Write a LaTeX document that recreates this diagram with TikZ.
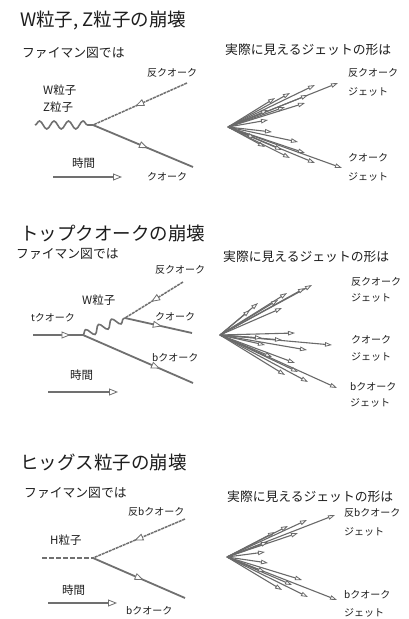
\documentclass[tikz,border=0pt]{standalone}
\usepackage{fontspec}
\setmainfont{Noto Sans CJK JP}
\usetikzlibrary{arrows.meta,decorations.pathmorphing,decorations.markings}

\definecolor{ink}{HTML}{1E1E1E}
\definecolor{linegray}{HTML}{707070}
\definecolor{jetgray}{HTML}{6A6A6A}

\tikzset{
  heading/.style={font=\fontsize{18.5}{20}\selectfont, anchor=west, text=ink, inner sep=0pt},
  subhead/.style={font=\fontsize{12.8}{14}\selectfont, anchor=west, text=ink, inner sep=0pt},
  lbl/.style={font=\fontsize{10}{12}\selectfont, anchor=west, text=ink, inner sep=0pt},
  plbl/.style={font=\fontsize{11.5}{13}\selectfont, anchor=west, text=ink, inner sep=0pt},
  midtip/.style={postaction=decorate, decoration={markings,
      mark=at position #1 with {\arrow{Triangle[length=9pt,width=7pt,fill=white,line width=0.8pt]}}}},
  fermion/.style={draw=linegray, line width=1.8pt, midtip=#1},
  fermion/.default=0.55,
  antifermion/.style={draw=linegray, line width=1.5pt, dash pattern=on 3pt off 0.8pt, midtip=0.55},
  boson/.style={draw=linegray, line width=1.6pt, decorate,
      decoration={snake, segment length=#1, amplitude=4pt}},
  higgs/.style={draw=linegray, line width=2.2pt, dash pattern=on 5pt off 2pt},
  timearrow/.style={draw=linegray, line width=1.8pt,
      -{Triangle[length=9pt,width=7pt,fill=white,line width=0.8pt]}},
  jet/.style={draw=jetgray, line width=1.1pt,
      -{Triangle[length=7pt,width=4.5pt,fill=white,line width=0.8pt]}},
}

\begin{document}
\begin{tikzpicture}[x=1pt,y=-1pt]
\useasboundingbox (0,0) rectangle (408,619);
\fill[white] (0,0) rectangle (408,619);

% ---------- W / Z decay ----------
\node[heading] (t1) at (20,20) {W粒子, Z粒子の崩壊};
\node[subhead] (f1) at (22,53) {ファイマン図では};
\node[subhead] (r1) at (225,50) {実際に見えるジェットの形は};

\coordinate (wz) at (35,125);
\coordinate (v1) at (93,125);
\coordinate (q1bar) at (187,83);
\coordinate (q1) at (193,167);
\draw[boson=14.5pt] (wz) -- (v1);
\draw[antifermion] (q1bar) -- (v1);
\draw[fermion] (v1) -- (q1);
\node[plbl] (wlab) at (43,90) {W粒子};
\node[plbl] (zlab) at (43,107) {Z粒子};
\node[lbl] (aq1) at (147,73) {反クオーク};
\node[lbl] (qq1) at (147,177) {クオーク};
\node[plbl] (time1) at (72,163) {時間};
\coordinate (ta1) at (53,177);
\coordinate (tb1) at (122,177);
\draw[timearrow] (ta1) -- (tb1);

\coordinate (j1) at (228,127);
\foreach \x/\y in {338/83, 315/85, 308/95, 305/103, 275/98, 268/110, 268/120, 290/93, 285/107,
                   342/168, 315/163, 305/153, 298/142, 272/132, 282/150, 265/147, 290/158, 255/138}
  {\coordinate (e) at (\x,\y); \draw[jet] (j1) -- (e);}
\node[lbl] (ja1) at (348,73) {反クオーク};
\node[lbl] (ja1b) at (348,92) {ジェット};
\node[lbl] (jq1) at (348,158) {クオーク};
\node[lbl] (jq1b) at (348,177) {ジェット};

% ---------- top quark decay ----------
\node[heading] (t2) at (20,234) {トップクオークの崩壊};
\node[subhead] (f2) at (16,254) {ファイマン図では};
\node[subhead] (r2) at (223,257) {実際に見えるジェットの形は};

\coordinate (tin) at (33,335);
\coordinate (v2) at (83,335);
\coordinate (w2) at (125,318);
\coordinate (q2bar) at (183,282);
\coordinate (q2) at (192,333);
\coordinate (b2) at (193,383);
\draw[fermion=0.75] (tin) -- (v2);
\draw[boson=14pt] (v2) -- (w2);
\draw[antifermion] (q2bar) -- (w2);
\draw[fermion] (w2) -- (q2);
\draw[fermion=0.7] (v2) -- (b2);
\node[lbl] (aq2) at (155,270) {反クオーク};
\node[plbl] (wlab2) at (82,300) {W粒子};
\node[lbl] (tq2) at (31,318) {tクオーク};
\node[lbl] (qq2) at (155,317) {クオーク};
\node[lbl] (bq2) at (152,358) {bクオーク};
\node[plbl] (time2) at (70,375) {時間};
\coordinate (ta2) at (48,392);
\coordinate (tb2) at (118,392);
\draw[timearrow] (ta2) -- (tb2);

\coordinate (j2) at (220,335);
\foreach \x/\y in {312/285, 305/288, 287/293, 282/308, 258/303, 278/300, 250/310,
                   332/345, 295/333, 307/350, 282/340, 262/338,
                   337/388, 308/382, 298/372, 295/363, 272/357, 265/345, 285/375}
  {\coordinate (e) at (\x,\y); \draw[jet] (j2) -- (e);}
\node[lbl] (ja2) at (351,282) {反クオーク};
\node[lbl] (ja2b) at (351,298) {ジェット};
\node[lbl] (jq2) at (351,340) {クオーク};
\node[lbl] (jq2b) at (351,357) {ジェット};
\node[lbl] (jb2) at (350,387) {bクオーク};
\node[lbl] (jb2b) at (350,403) {ジェット};

% ---------- Higgs decay ----------
\node[heading] (t3) at (20,462) {ヒッグス粒子の崩壊};
\node[subhead] (f3) at (24,493) {ファイマン図では};
\node[subhead] (r3) at (227,497) {実際に見えるジェットの形は};

\coordinate (hin) at (42,558);
\coordinate (v3) at (93,558);
\coordinate (b3bar) at (185,519);
\coordinate (b3) at (185,598);
\draw[higgs] (hin) -- (v3);
\draw[antifermion] (b3bar) -- (v3);
\draw[fermion] (v3) -- (b3);
\node[lbl] (ab3) at (128,512) {反bクオーク};
\node[plbl] (hlab) at (50,540) {H粒子};
\node[plbl] (time3) at (62,590) {時間};
\node[lbl] (bb3) at (126,611) {bクオーク};
\coordinate (ta3) at (48,603);
\coordinate (tb3) at (117,603);
\draw[timearrow] (ta3) -- (tb3);

\coordinate (j3) at (227,557);
\foreach \x/\y in {335/515, 307/520, 298/533, 275/532, 268/542, 265/552, 288/526,
                   337/600, 308/597, 302/580, 292/585, 268/563, 265/572, 282/590}
  {\coordinate (e) at (\x,\y); \draw[jet] (j3) -- (e);}
\node[lbl] (ja3) at (344,513) {反bクオーク};
\node[lbl] (ja3b) at (344,532) {ジェット};
\node[lbl] (jb3) at (344,595) {bクオーク};
\node[lbl] (jb3b) at (344,613) {ジェット};
\end{tikzpicture}
\end{document}
